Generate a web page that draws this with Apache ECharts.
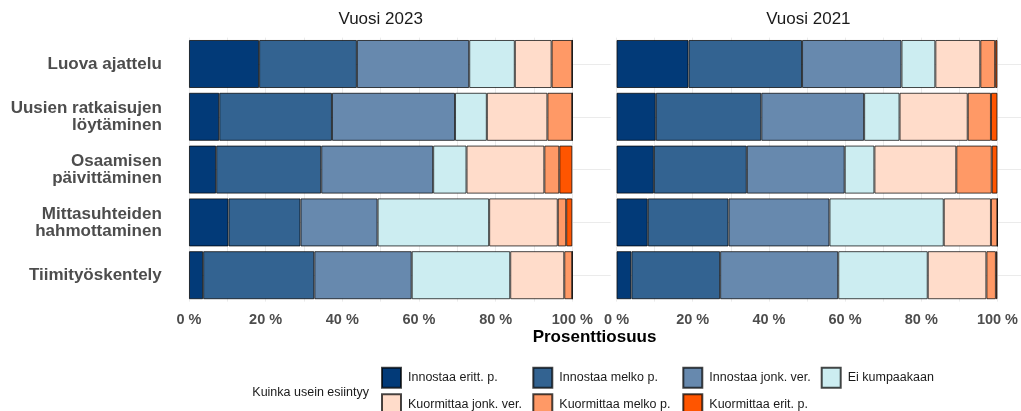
<!DOCTYPE html>
<html>
<head>
<meta charset="utf-8">
<script src="https://cdn.jsdelivr.net/npm/echarts@6/dist/echarts.min.js"></script>
<style>
  html, body { margin: 0; padding: 0; background: #ffffff; }
  #chart { width: 1021px; height: 411px; }
</style>
</head>
<body>
<div id="chart"></div>
<script>
// ---------- data ----------
const categories = ['Luova ajattelu', 'Uusien ratkaisujen\nlöytäminen', 'Osaamisen\npäivittäminen', 'Mittasuhteiden\nhahmottaminen', 'Tiimityöskentely'];
const panelTitles = ['Vuosi 2023', 'Vuosi 2021'];
const seriesNames = ['Innostaa eritt. p.', 'Innostaa melko p.', 'Innostaa jonk. ver.', 'Ei kumpaakaan', 'Kuormittaa jonk. ver.', 'Kuormittaa melko p.', 'Kuormittaa erit. p.'];
const xTickLabels = [0, 20, 40, 60, 80, 100];
const xGridValues = [0, 10, 20, 30, 40, 50, 60, 70, 80, 90, 100];
const axisTitle = 'Prosenttiosuus';
const legendTitle = 'Kuinka usein esiintyy';

// 2023
const innostaaErittP2023   = [18.3, 7.9, 7.1, 10.3, 3.7];
const innostaaMelkoP2023   = [25.5, 29.4, 27.4, 18.8, 29.0];
const innostaaJonkVer2023  = [29.3, 32.1, 29.2, 20.1, 25.4];
const eiKumpaakaan2023     = [11.9, 8.3, 8.7, 29.1, 25.7];
const kuormJonkVer2023     = [9.6, 15.8, 20.3, 17.9, 14.1];
const kuormMelkoP2023      = [5.4, 6.5, 3.9, 2.2, 2.1];
const kuormEritP2023       = [0, 0, 3.4, 1.6, 0];
// 2021
const innostaaErittP2021   = [18.9, 10.3, 9.8, 8.2, 3.9];
const innostaaMelkoP2021   = [29.8, 27.7, 24.4, 21.2, 23.3];
const innostaaJonkVer2021  = [26.1, 27.0, 25.7, 26.5, 31.0];
const eiKumpaakaan2021     = [8.9, 9.3, 7.8, 30.0, 23.5];
const kuormJonkVer2021     = [11.8, 17.9, 21.5, 12.4, 15.4];
const kuormMelkoP2021      = [3.9, 6.1, 9.3, 1.7, 2.5];
const kuormEritP2021       = [0.6, 1.7, 1.5, 0, 0.4];

const values2023 = [innostaaErittP2023, innostaaMelkoP2023, innostaaJonkVer2023, eiKumpaakaan2023, kuormJonkVer2023, kuormMelkoP2023, kuormEritP2023];
const values2021 = [innostaaErittP2021, innostaaMelkoP2021, innostaaJonkVer2021, eiKumpaakaan2021, kuormJonkVer2021, kuormMelkoP2021, kuormEritP2021];
const panelValues = [values2023, values2021];

// ---------- styles ----------
const colors = ['#023a78', '#336391', '#6789ae', '#ccedf1', '#ffdcca', '#ff9966', '#ff5500'];
const FONT = '"Liberation Sans", Arial, sans-serif';

const gridLefts = [169.8, 597.5];
const gridWidth = 421.7;
const gridTop = 37.6;
const gridHeight = 264;

const chart = echarts.init(document.getElementById('chart'), null, { renderer: 'canvas' });

const grids = gridLefts.map(l => ({ left: l, top: gridTop, width: gridWidth, height: gridHeight, containLabel: false }));

const xAxes = gridLefts.map((l, i) => ({
  type: 'value', gridIndex: i, min: -5, max: 105,
  axisLine: { show: false },
  axisTick: { show: false, customValues: xGridValues },
  axisLabel: {
    customValues: xTickLabels,
    formatter: v => v + ' %',
    fontFamily: FONT, fontWeight: 'bold', fontSize: 14.5, color: '#4d4d4d', margin: 11
  },
  splitLine: { show: true, lineStyle: { color: '#ebebeb', width: 1 } }
}));

const yAxes = gridLefts.map((l, i) => ({
  type: 'category', gridIndex: i, data: categories, inverse: true,
  axisLine: { show: false },
  axisTick: { show: true, alignWithLabel: true, inside: true, length: gridWidth, lineStyle: { color: '#ebebeb', width: 1 } },
  splitLine: { show: false },
  axisLabel: i === 0 ? {
    show: true, fontFamily: FONT, fontWeight: 'bold', fontSize: 17, lineHeight: 17,
    color: '#4d4d4d', margin: 8, align: 'right'
  } : { show: false }
}));

const series = [];
panelValues.forEach((vals, p) => {
  seriesNames.forEach((name, s) => {
    series.push({
      type: 'bar', name: name, stack: 'panel' + p,
      xAxisIndex: p, yAxisIndex: p,
      data: vals[s],
      barCategoryGap: '9%',
      itemStyle: { color: colors[s], borderColor: 'rgba(0,0,0,0.72)', borderWidth: 1 },
      emphasis: { disabled: true },
      animation: false
    });
  });
});

const legendPos = [[381, 366.7], [532.3, 366.7], [682.3, 366.7], [820.7, 366.7], [381, 393.3], [532.3, 393.3], [682.3, 393.3]];
const legends = seriesNames.map((name, i) => ({
  data: [name], left: legendPos[i][0], top: legendPos[i][1], padding: 0,
  orient: 'horizontal', icon: 'rect', itemWidth: 19, itemHeight: 20, selectedMode: false,
  textStyle: { fontFamily: FONT, fontSize: 12.5, color: '#1a1a1a', padding: [0, 0, 0, 2] }
}));

const graphics = [
  { type: 'text', x: gridLefts[0] + gridWidth / 2, y: 19.7, style: { text: panelTitles[0], font: '17px ' + FONT, fill: '#1a1a1a', textAlign: 'center', textVerticalAlign: 'middle' } },
  { type: 'text', x: gridLefts[1] + gridWidth / 2, y: 19.7, style: { text: panelTitles[1], font: '17px ' + FONT, fill: '#1a1a1a', textAlign: 'center', textVerticalAlign: 'middle' } },
  { type: 'text', x: 594.5, y: 337.5, style: { text: axisTitle, font: 'bold 17px ' + FONT, fill: '#000000', textAlign: 'center', textVerticalAlign: 'middle' } },
  { type: 'text', x: 252.3, y: 392.3, style: { text: legendTitle, font: '12.5px ' + FONT, fill: '#1a1a1a', textAlign: 'left', textVerticalAlign: 'middle' } }
];

chart.setOption({
  backgroundColor: '#ffffff',
  animation: false,
  grid: grids,
  xAxis: xAxes,
  yAxis: yAxes,
  series: series,
  legend: legends,
  graphic: graphics
});
</script>
</body>
</html>
